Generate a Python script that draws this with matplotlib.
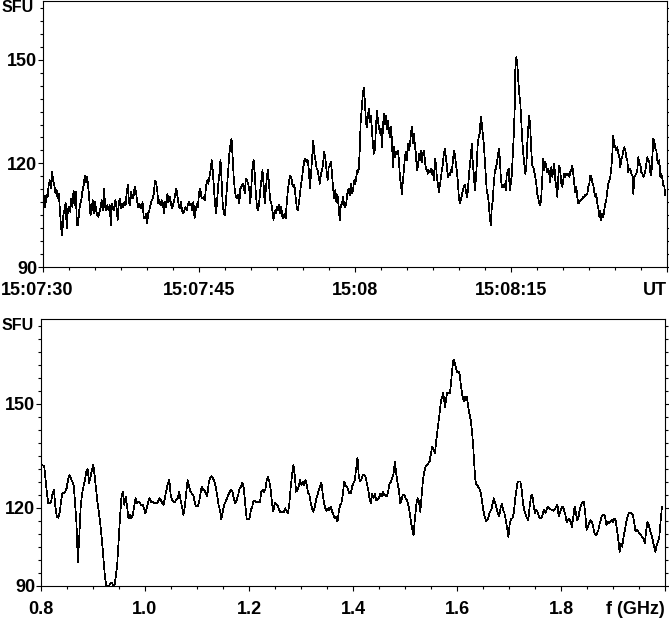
import matplotlib
matplotlib.use('Agg')
import matplotlib.pyplot as plt
import matplotlib.transforms as mtransforms
from matplotlib.ticker import FixedLocator, MultipleLocator
import numpy as np

plt.rcParams['font.family'] = ['Liberation Sans', 'DejaVu Sans']
plt.rcParams['font.weight'] = 'bold'

time_spans = [(0.0, 15.55), (15.58, 30.87), (30.96, 45.36), (45.41, 59.84)]

flux_a = [112.2, 109.8, 107.4, 110.8, 110.1, 113.7, 115.1, 112.7, 117.5, 115.1, 113.7, 111.3, 112.2, 109.8,
          111.3, 106.4, 101.2, 99.2, 105.0, 106.4, 108.5, 101.2, 106.4, 107.4, 106.0, 109.8, 107.4, 112.2,
          107.9, 111.7, 102.1, 102.1, 106.4, 108.4, 109.8, 112.2, 113.7, 116.5, 114.6, 116.1, 113.2, 109.3,
          105.0, 106.4, 109.3, 105.5, 108.8, 106.4, 105.0, 104.5, 106.0, 107.4, 109.3, 106.4, 112.7, 107.4,
          106.4, 107.9, 106.4, 107.9, 102.1, 108.4, 106.9, 106.4, 109.3, 107.4, 103.6, 108.4, 109.8, 106.9,
          108.4, 107.4, 108.8, 107.9, 111.3, 113.7, 108.8, 107.9, 111.7, 109.8, 110.3, 113.2, 112.2, 109.8,
          107.4, 108.4, 107.4, 106.9, 108.8, 104.5, 104.0, 105.5, 102.6, 105.5, 106.4, 107.9, 109.3, 109.8,
          111.3, 114.9, 114.6, 112.2, 108.4, 109.3, 107.9, 109.3, 108.4, 105.5, 108.8, 107.4, 111.3, 108.8,
          110.3, 108.8, 106.9, 107.9, 109.3, 111.3, 112.7, 110.3, 107.9, 106.9, 108.8, 106.4, 105.5, 106.4,
          107.4, 106.4, 107.9, 108.8, 107.9, 108.4, 106.4, 108.8, 104.0, 106.4, 108.4, 107.4, 111.7, 112.7,
          110.3, 109.8, 110.3, 109.3]

flux_b = [109.8, 113.7, 115.1, 114.1, 116.1, 118.0, 120.9, 118.0, 113.2, 108.4, 105.5, 109.3, 114.1, 117.0,
          121.0, 115.1, 108.4, 105.5, 105.0, 109.3, 113.2, 118.0, 122.8, 125.2, 127.1, 121.8, 115.6, 112.2,
          110.3, 109.8, 110.8, 108.4, 112.7, 113.2, 114.1, 113.7, 111.3, 115.6, 115.1, 114.1, 112.7, 108.4,
          113.7, 118.9, 120.9, 117.0, 111.3, 107.4, 106.4, 108.4, 112.2, 115.1, 118.0, 114.1, 108.4, 112.2,
          116.1, 118.0, 113.7, 109.3, 108.4, 106.4, 103.6, 106.4, 105.5, 107.4, 106.4, 107.9, 105.5, 107.4,
          104.5, 104.0, 105.5, 104.0, 108.4, 112.2, 114.6, 116.5, 116.1, 114.1, 113.2, 113.7, 110.3, 107.4,
          106.4, 108.4, 111.3, 114.1, 116.1, 118.9, 120.9, 121.3, 120.4, 120.9, 118.0, 112.7, 117.0, 121.8,
          126.6, 122.8, 120.9, 118.5, 118.0, 116.1, 114.1, 117.0, 118.0, 120.4, 123.3, 121.3, 118.0, 115.1,
          118.9, 119.4, 120.4, 117.0, 112.7, 109.8, 112.2, 108.8, 110.8, 107.4, 103.6, 107.9, 108.4, 110.3,
          107.9, 107.4, 108.8, 111.7, 112.7, 110.8, 114.1, 111.3, 112.2, 115.1, 114.1, 116.1, 118.0, 117.5,
          123.3, 132.4, 136.2, 140.6, 142.0]

flux_c = [137.2, 131.9, 130.5, 134.3, 135.8, 131.9, 133.8, 129.5, 125.2, 122.8, 124.2, 130.5, 135.3, 132.4,
          130.5, 128.6, 130.0, 124.7, 130.5, 134.3, 131.4, 133.8, 130.0, 132.4, 129.5, 127.6, 130.5, 126.6,
          118.9, 124.7, 121.8, 123.3, 122.8, 123.7, 120.9, 116.1, 113.7, 111.2, 115.1, 118.0, 121.8, 123.3,
          120.9, 125.7, 123.7, 125.2, 128.6, 130.5, 125.7, 128.6, 125.2, 122.8, 118.0, 118.9, 122.8, 120.9,
          123.7, 120.4, 122.8, 123.7, 120.9, 118.5, 118.0, 117.0, 118.0, 117.5, 118.5, 117.0, 118.0, 115.1,
          121.3, 119.9, 116.1, 114.1, 111.7, 113.7, 115.6, 118.0, 119.9, 122.8, 124.2, 121.8, 119.4, 116.1,
          117.0, 116.5, 118.0, 117.5, 120.4, 123.7, 122.8, 119.9, 118.0, 114.6, 110.3, 108.4, 109.3, 110.8,
          112.2, 113.2, 113.7, 112.2, 110.3, 111.7, 116.1, 119.4, 121.8, 125.7, 119.9, 117.0, 112.2, 115.1,
          119.9, 126.2, 127.6, 129.0, 133.4, 131.4, 128.6, 125.7, 120.9, 116.1, 111.7, 110.8, 108.4, 104.5,
          102.1, 107.4, 109.3, 114.1, 117.5, 118.5, 119.9, 121.8, 124.2, 121.8, 116.1, 113.2, 113.7, 113.2,
          114.1, 112.2, 117.0, 117.5, 118.5, 112.2, 114.1, 116.5, 122.3, 128.1, 136.3]

flux_d = [146.8, 150.7, 149.2, 143.9, 140.1, 137.7, 132.4, 126.6, 122.8, 119.9, 117.0, 118.9, 125.7, 130.5,
          133.8, 130.5, 123.7, 119.4, 118.9, 117.5, 116.1, 114.1, 111.2, 109.8, 108.4, 107.9, 110.3, 116.1,
          121.3, 118.0, 120.4, 118.9, 117.5, 118.5, 117.0, 114.6, 118.9, 116.1, 118.0, 119.9, 115.1, 113.2,
          110.3, 116.1, 119.4, 118.0, 114.1, 113.2, 115.1, 117.0, 116.1, 117.0, 116.5, 117.0, 116.1, 117.5,
          118.0, 119.4, 117.0, 114.1, 111.7, 113.2, 110.3, 108.4, 108.8, 109.3, 109.3, 109.8, 110.3, 110.3,
          110.8, 110.8, 111.2, 113.2, 114.1, 116.5, 116.1, 114.6, 113.7, 111.7, 110.3, 111.2, 108.4, 106.9,
          104.5, 106.4, 103.6, 105.5, 104.5, 106.4, 108.4, 109.3, 112.2, 114.1, 115.1, 116.1, 118.5, 122.8,
          128.1, 124.7, 125.2, 123.7, 124.7, 122.8, 121.8, 118.9, 121.3, 121.8, 123.7, 124.7, 123.7, 121.8,
          120.9, 117.5, 118.5, 118.5, 117.0, 116.5, 111.2, 116.1, 116.5, 117.0, 118.0, 121.8, 119.4, 119.9,
          117.5, 117.0, 116.1, 116.5, 118.0, 119.9, 121.8, 120.9, 120.4, 117.5, 116.5, 121.8, 127.1, 126.6,
          124.2, 123.7, 120.9, 119.9, 120.9, 116.1, 117.0, 115.6, 113.7, 113.2, 110.8]

freq_spans = [(0.8006, 1.2063), (1.2083, 1.5602), (1.5673, 1.6481), (1.6506, 1.9942)]

spec_a = [132.4, 132.3, 132.2, 128.1, 124.2, 121.4, 121.4, 121.8, 124.2, 125.2, 120.4, 117.5, 117.2, 118.5,
          121.8, 124.2, 124.4, 124.7, 125.7, 128.1, 129.5, 128.6, 127.6, 126.6, 121.4, 115.6, 104.5, 111.7,
          120.4, 124.2, 126.2, 128.1, 130.5, 131.2, 127.1, 129.0, 131.0, 132.4, 129.0, 125.2, 121.4, 118.5,
          115.1, 111.2, 106.4, 101.2, 97.8, 97.5, 97.5, 98.1, 98.5, 97.8, 97.5, 100.2, 104.0, 110.8, 117.5,
          123.3, 124.7, 120.9, 123.3, 120.4, 117.0, 118.0, 117.0, 118.0, 120.4, 122.8, 121.4, 121.8, 121.4,
          120.9, 120.9, 119.9, 118.5, 119.9, 121.8, 122.8, 121.8, 121.8, 121.4, 121.4, 121.4, 121.8, 122.8,
          122.3, 121.4, 120.9, 123.3, 125.2, 127.1, 128.1, 123.8, 122.3, 121.8, 121.8, 122.3, 122.8, 124.7,
          122.3, 120.4, 118.0, 120.4, 124.2, 128.1, 126.2, 124.7, 124.2, 123.8, 121.8, 120.4, 120.4, 121.4,
          123.8, 126.2, 125.2, 125.2, 124.2, 123.3, 127.1, 128.6, 129.2, 128.6, 127.6, 126.2, 123.8, 120.9,
          119.4, 116.7, 118.9, 120.9, 121.8, 122.8, 123.8, 124.7, 125.2, 124.7, 122.3, 121.4, 122.3, 123.8,
          125.7, 126.2, 127.3, 125.7, 120.9, 117.0, 116.7, 117.0, 119.4, 120.4]

spec_b = [121.8, 122.0, 121.8, 121.7, 121.6, 121.8, 124.7, 125.2, 124.7, 125.2, 128.1, 128.9, 127.6, 125.2,
          121.4, 119.1, 121.4, 121.2, 120.9, 119.9, 118.9, 118.9, 118.9, 118.9, 119.9, 118.9, 118.5, 121.4,
          126.2, 129.5, 132.4, 129.5, 124.7, 125.2, 126.2, 128.1, 126.6, 127.6, 126.6, 128.1, 126.6, 124.2,
          123.8, 121.4, 119.9, 118.9, 120.4, 122.3, 123.8, 125.2, 126.2, 127.3, 123.8, 121.4, 119.9, 119.2,
          119.9, 119.4, 120.4, 118.9, 118.0, 117.0, 117.5, 116.1, 118.9, 120.9, 121.4, 123.8, 127.6, 126.6,
          126.2, 125.2, 124.2, 124.2, 126.2, 127.1, 128.1, 131.4, 134.6, 129.0, 127.6, 128.3, 129.5, 129.5,
          129.0, 127.1, 125.2, 122.8, 121.4, 124.2, 122.8, 124.2, 122.3, 122.3, 122.8, 124.2, 123.3, 124.7,
          123.8, 123.5, 123.5, 124.7, 127.1, 127.6, 128.6, 130.0, 133.4, 130.0, 127.1, 125.2, 121.4, 122.3,
          123.8, 123.8, 122.8, 122.3, 120.9, 118.9, 116.1, 113.8, 112.2, 117.0, 120.9, 122.8, 121.8, 118.9,
          123.3, 128.1, 130.5, 131.9, 132.4, 132.9, 133.4, 135.8, 137.7, 136.7, 135.8, 139.6]

spec_c = [148.3, 151.2, 151.6, 153.1, 151.6, 149.2, 151.2, 153.1, 153.1, 153.1, 153.1, 156.0, 159.3, 162.2,
          162.7, 161.7, 160.3, 159.3, 159.3, 159.3, 157.9, 155.0, 153.1, 151.6, 150.7, 152.1, 151.2, 152.1,
          149.7, 147.8, 146.3, 144.9, 142.0, 138.7, 133.8, 129.0, 127.1, 126.6, 126.2, 125.7, 125.2, 124.2,
          121.8]

spec_d = [119.4, 117.5, 116.3, 116.5, 117.5, 118.9, 119.4, 121.3, 122.8, 121.3, 119.9, 118.5, 117.5, 119.9,
          121.3, 119.4, 118.5, 116.5, 114.1, 111.7, 115.6, 117.0, 117.0, 118.5, 122.3, 125.2, 127.6, 127.6,
          127.6, 125.2, 121.3, 119.4, 118.0, 117.0, 116.5, 120.4, 123.3, 123.7, 120.9, 118.5, 119.4, 118.9,
          117.5, 117.0, 117.0, 118.5, 119.4, 118.5, 119.9, 120.4, 119.9, 119.6, 119.4, 119.2, 119.6, 120.4,
          120.9, 117.5, 118.9, 119.9, 120.4, 119.4, 118.0, 116.0, 116.5, 117.0, 116.0, 114.6, 117.5, 120.4,
          118.5, 116.5, 117.5, 119.9, 120.9, 121.8, 121.8, 118.5, 113.7, 114.6, 115.6, 116.5, 116.0, 114.6,
          112.7, 112.2, 112.7, 113.7, 115.6, 117.0, 118.0, 118.0, 117.5, 115.1, 116.0, 115.6, 116.0, 116.5,
          116.0, 117.0, 116.5, 113.7, 110.8, 107.4, 109.8, 108.8, 111.7, 113.7, 116.0, 117.5, 118.5, 118.5,
          118.5, 118.0, 116.0, 113.2, 113.7, 113.2, 112.7, 112.2, 111.7, 111.2, 109.8, 113.2, 116.0, 115.1,
          113.7, 112.2, 110.8, 108.8, 107.4, 109.3, 110.3, 111.7, 116.5, 120.4]

time_ticks = [0, 15, 30, 45, 60]
time_labels = ['15:07:30', '15:07:45', '15:08', '15:08:15', 'UT']
freq_ticks = [0.8, 1.0, 1.2, 1.4, 1.6, 1.8, 2.0]
freq_labels = ['0.8', '1.0', '1.2', '1.4', '1.6', '1.8', 'f (GHz)']


def join_pieces(spans, pieces):
    xs, ys = [], []
    for (a, b), vals in zip(spans, pieces):
        xs.append(np.linspace(a, b, len(vals)))
        ys.append(np.array(vals))
    return np.concatenate(xs), np.concatenate(ys)


t, flux_t = join_pieces(time_spans, [flux_a, flux_b, flux_c, flux_d])
f, flux_f = join_pieces(freq_spans, [spec_a, spec_b, spec_c, spec_d])

fig = plt.figure(figsize=(6.69, 6.18), dpi=100)
ax1 = fig.add_axes([43 / 669, 351 / 618, 624 / 669, 266 / 618])
ax2 = fig.add_axes([41 / 669, 32 / 618, 624 / 669, 267 / 618])

ax1.plot(t, flux_t, color='black', lw=0.5, antialiased=False)
ax2.plot(f, flux_f, color='black', lw=0.5, antialiased=False)

for ax in (ax1, ax2):
    for sp in ax.spines.values():
        sp.set_linewidth(0.8)
    ax.tick_params(which='both', direction='out', width=0.8, right=True, labelsize=13)
    ax.tick_params(which='major', length=3.6)
    ax.tick_params(which='minor', length=2.2)
    ax.tick_params(axis='y', pad=0.5)
    ax.yaxis.set_minor_locator(MultipleLocator(3.75))

# top panel axes
ax1.set_xlim(0, 60)
ax1.set_ylim(90, 167)
ax1.set_xticks(time_ticks)
ax1.set_xticklabels(time_labels)
ax1.xaxis.set_minor_locator(MultipleLocator(2.5))
ax1.set_yticks([90, 120, 150])
ax1.tick_params(axis='x', pad=7)

# bottom panel axes (lowest label sits on the frame edge as in the original)
ax2.set_xlim(0.8, 2.0)
ax2.set_ylim(97.5, 174.5)
ax2.set_xticks(freq_ticks)
ax2.set_xticklabels(freq_labels)
ax2.xaxis.set_minor_locator(MultipleLocator(0.05))
ax2.yaxis.set_major_locator(FixedLocator([97.5, 120, 150]))
ax2.set_yticklabels(['90', '120', '150'])
ax2.tick_params(axis='x', pad=7.5)

for ax in (ax1, ax2):
    labs = ax.get_xticklabels()
    labs[-1].set_ha('right')

first = ax1.get_xticklabels()[0]
first.set_transform(first.get_transform() + mtransforms.ScaledTranslation(-5.5 / 100, 0, fig.dpi_scale_trans))

ax1.annotate('SFU', xy=(0, 165), xycoords=('axes fraction', 'data'), xytext=(-7, 0),
             textcoords='offset points', ha='right', va='center', fontsize=11.5, fontweight='bold')
ax2.annotate('SFU', xy=(0, 172.5), xycoords=('axes fraction', 'data'), xytext=(-5, 0),
             textcoords='offset points', ha='right', va='center', fontsize=11.5, fontweight='bold')

fig.savefig('out.png', dpi=100)
